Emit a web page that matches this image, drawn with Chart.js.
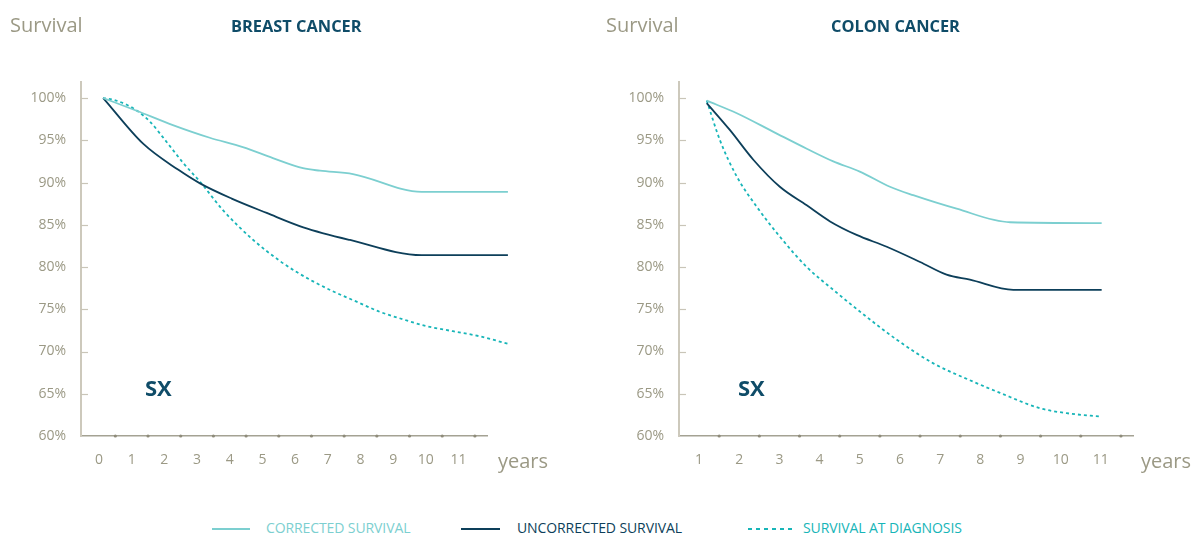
<!DOCTYPE html>
<html>
<head>
<meta charset="utf-8">
<script src="https://cdn.jsdelivr.net/npm/chart.js@4.4.0/dist/chart.umd.min.js"></script>
<style>
  body { margin: 0; background: #fff; font-family: "Open Sans", sans-serif; }
  #wrap { position: relative; width: 1191px; height: 537px; overflow: hidden; }
  .box { position: absolute; top: 0; height: 490px; }
  .lbl { position: absolute; white-space: nowrap; line-height: 1; }
  .survival, .years { font-size: 20px; color: #9b9985; }
  .title { font-size: 16.4px; font-weight: bold; color: #0f4c68; }
  .sx { font-size: 22px; font-weight: bold; color: #0f4c68; }
  .leg { position: absolute; font-size: 14px; line-height: 1; white-space: nowrap; letter-spacing: -0.1px; }
  .swatch { position: absolute; height: 2px; }
</style>
</head>
<body>
<div id="wrap">
  <div class="box" style="left:0; width:595px;"><canvas id="breast"></canvas></div>
  <div class="box" style="left:595px; width:596px;"><canvas id="colon"></canvas></div>

  <div class="lbl survival" style="left:10px; top:15px;">Survival</div>
  <div class="lbl title" style="left:231px; top:18px;">BREAST CANCER</div>
  <div class="lbl sx" style="left:145px; top:376px;">SX</div>
  <div class="lbl years" style="left:498px; top:451px;">years</div>

  <div class="lbl survival" style="left:606px; top:15px;">Survival</div>
  <div class="lbl title" style="left:831px; top:18px;">COLON CANCER</div>
  <div class="lbl sx" style="left:738px; top:376px;">SX</div>
  <div class="lbl years" style="left:1141px; top:451px;">years</div>

  <div class="swatch" style="left:212px; top:528px; width:38px; background:#7ccfd0;"></div>
  <div class="leg" style="left:266px; top:521px; color:#7ccfd0;">CORRECTED SURVIVAL</div>
  <div class="swatch" style="left:461px; top:528px; width:39px; background:#0d3f5a;"></div>
  <div class="leg" style="left:517px; top:521px; color:#0d3f5a;">UNCORRECTED SURVIVAL</div>
  <div class="swatch" style="left:748px; top:528px; width:46px; background:repeating-linear-gradient(90deg, #17b5b8 0 4px, transparent 4px 8px);"></div>
  <div class="leg" style="left:803px; top:521px; color:#17b5b8;">SURVIVAL AT DIAGNOSIS</div>
</div>

<script>
// survival (%), x = years
const survivalTicks = [60, 65, 70, 75, 80, 85, 90, 95, 100];

const breastYearLabels = [0, 1, 2, 3, 4, 5, 6, 7, 8, 9, 10, 11];
const breastDots = [0.5, 1.5, 2.5, 3.5, 4.5, 5.5, 6.5, 7.5, 8.5, 9.5, 10.5, 11.5];
const breastCorrectedYears = [0.13, 1.15, 2.26, 3.39, 4.40, 5.32, 6.24, 6.76, 7.77, 9.87, 12.51];
const breastCorrected = [100, 98.5, 96.8, 95.3, 94.2, 92.9, 91.7, 91.4, 91.0, 88.9, 88.9];
const breastUncorrectedYears = [0.13, 1.35, 2.43, 3.09, 4.06, 5.13, 6.25, 7.68, 9.87, 12.51];
const breastUncorrected = [100, 94.6, 91.5, 89.9, 88.1, 86.4, 84.7, 83.2, 81.4, 81.4];
const breastDiagnosisYears = [0.12, 0.44, 0.85, 1.2, 1.56, 2.07, 2.58, 3.09, 3.80, 4.72, 5.54, 6.05, 6.55, 7.17, 7.88, 8.59, 9.31, 10.02, 10.83, 11.65, 12.52];
const breastDiagnosis = [100, 99.8, 99.2, 98.4, 97.2, 94.8, 92.3, 90.1, 86.7, 83.2, 80.7, 79.4, 78.3, 77.1, 75.9, 74.7, 73.8, 73.0, 72.4, 71.8, 70.9];

const colonYearLabels = [1, 2, 3, 4, 5, 6, 7, 8, 9, 10, 11];
const colonDots = [1.5, 2.5, 3.5, 4.5, 5.5, 6.5, 7.5, 8.5, 9.5, 10.5, 11.5];
const colonCorrectedYears = [1.19, 1.94, 2.85, 3.68, 4.34, 5.0, 5.75, 6.33, 7.41, 8.74, 11.02];
const colonCorrected = [99.7, 98.2, 96.0, 94.0, 92.5, 91.3, 89.5, 88.5, 86.9, 85.3, 85.2];
const colonUncorrectedYears = [1.19, 1.77, 2.35, 3.01, 3.68, 4.26, 4.92, 5.67, 6.50, 7.16, 7.74, 8.82, 11.02];
const colonUncorrected = [99.4, 96.2, 92.7, 89.5, 87.3, 85.4, 83.8, 82.4, 80.6, 79.1, 78.5, 77.3, 77.3];
const colonDiagnosisYears = [1.19, 1.52, 1.94, 2.44, 3.01, 3.68, 4.34, 5.17, 5.92, 6.83, 7.74, 8.49, 9.48, 10.15, 11.02];
const colonDiagnosis = [99.7, 95.0, 90.7, 87.1, 83.6, 80.0, 77.3, 74.1, 71.4, 68.6, 66.6, 65.1, 63.3, 62.7, 62.3];

Chart.defaults.font.family = '"Open Sans", sans-serif';

const pts = (xs, ys) => xs.map((x, i) => ({ x, y: ys[i] }));

// inward y ticks + little dots along the x axis
const axisMarks = {
  id: 'axisMarks',
  afterDraw(chart, args, o) {
    const { ctx, scales: { x, y } } = chart;
    ctx.save();
    ctx.strokeStyle = '#c9c5b8';
    ctx.lineWidth = 1.2;
    survivalTicks.slice(1).forEach(v => {
      const py = Math.round(y.getPixelForValue(v)) + 0.5;
      ctx.beginPath();
      ctx.moveTo(x.left, py);
      ctx.lineTo(x.left + 7, py);
      ctx.stroke();
    });
    ctx.fillStyle = '#8e8b7a';
    o.dots.forEach(v => {
      ctx.beginPath();
      ctx.arc(x.getPixelForValue(v), y.bottom, 1.6, 0, Math.PI * 2);
      ctx.fill();
    });
    ctx.restore();
  }
};

function makeChart(id, sets, labels, dots, xMin, xMax, yWidth, padRight) {
  return new Chart(document.getElementById(id), {
    type: 'line',
    data: {
      datasets: [
        { label: 'CORRECTED SURVIVAL', data: pts(sets[0], sets[1]), borderColor: '#7ccfd0', borderWidth: 1.8 },
        { label: 'UNCORRECTED SURVIVAL', data: pts(sets[2], sets[3]), borderColor: '#0d3f5a', borderWidth: 1.8 },
        { label: 'SURVIVAL AT DIAGNOSIS', data: pts(sets[4], sets[5]), borderColor: '#17b5b8', borderWidth: 1.8, borderDash: [3, 3] }
      ]
    },
    options: {
      responsive: true,
      maintainAspectRatio: false,
      animation: false,
      clip: false,
      elements: { point: { radius: 0 }, line: { cubicInterpolationMode: 'monotone' } },
      layout: { padding: { top: 82, right: padRight, bottom: 0, left: 0 } },
      plugins: { legend: { display: false }, tooltip: { enabled: false }, axisMarks: { dots } },
      scales: {
        x: {
          type: 'linear', min: xMin, max: xMax,
          afterBuildTicks: s => { s.ticks = labels.map(value => ({ value })); },
          afterFit: s => { s.height = 54; },
          grid: { drawOnChartArea: false, drawTicks: false },
          border: { color: '#a4a293', width: 1.5 },
          ticks: { color: '#9b9985', font: { size: 14 }, padding: 16, maxRotation: 0, autoSkip: false }
        },
        y: {
          min: 60, max: 101.9,
          afterBuildTicks: s => { s.ticks = survivalTicks.map(value => ({ value })); },
          afterFit: s => { s.width = yWidth; },
          grid: { drawOnChartArea: false, drawTicks: false },
          border: { color: '#cdc9bc', width: 2 },
          ticks: { color: '#9b9985', font: { size: 14 }, padding: 15, callback: v => v + '%' }
        }
      }
    },
    plugins: [axisMarks]
  });
}

makeChart('breast',
  [breastCorrectedYears, breastCorrected, breastUncorrectedYears, breastUncorrected, breastDiagnosisYears, breastDiagnosis],
  breastYearLabels, breastDots, -0.55, 11.87, 81, 108);

makeChart('colon',
  [colonCorrectedYears, colonCorrected, colonUncorrectedYears, colonUncorrected, colonDiagnosisYears, colonDiagnosis],
  colonYearLabels, colonDots, 0.5, 11.8, 84, 58);
</script>
</body>
</html>
